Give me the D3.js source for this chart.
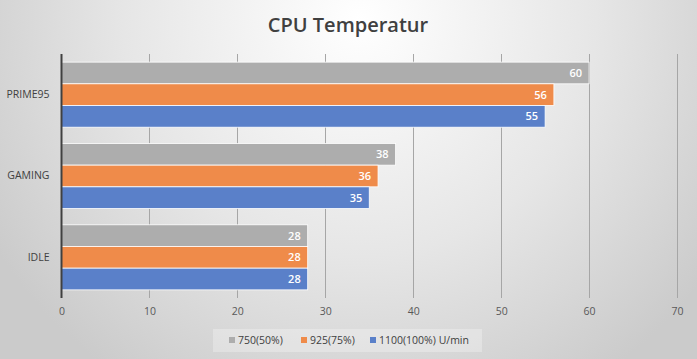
<!DOCTYPE html>
<html><head><meta charset="utf-8">
<script src="https://cdn.jsdelivr.net/npm/d3@7"></script>
<style>html,body{margin:0;padding:0;}svg{display:block;}</style>
</head><body>
<script>
const categories = ["PRIME95", "GAMING", "IDLE"];
const seriesNames = ["750(50%)", "925(75%)", "1100(100%) U/min"];
const s750 = [60, 38, 28];
const s925 = [56, 36, 28];
const s1100 = [55, 35, 28];
const xTicks = [0, 10, 20, 30, 40, 50, 60, 70];
const colors = ["#ADADAD", "#EF8B4A", "#5A80C9"];
const seriesValues = [s750, s925, s1100];

(function () {
const W = 697, H = 359;
const svg = d3.select("body").append("svg").attr("width", W).attr("height", H);
const defs = svg.append("defs");
const rg = defs.append("radialGradient").attr("id", "bg").attr("gradientUnits", "userSpaceOnUse")
  .attr("cx", 360).attr("cy", 20).attr("r", 430);
rg.append("stop").attr("offset", "0").attr("stop-color", "#ffffff");
rg.append("stop").attr("offset", "0.55").attr("stop-color", "#e6e6e6");
rg.append("stop").attr("offset", "1").attr("stop-color", "#cbcbcb");
svg.append("rect").attr("width", W).attr("height", H).attr("fill", "url(#bg)");

const font = "'Open Sans', 'Noto Sans', sans-serif";
svg.append("text").attr("x", 348).attr("y", 32).attr("text-anchor", "middle")
  .attr("font-family", font).attr("font-weight", 600).attr("font-size", 20)
  .attr("fill", "#404040").text("CPU Temperatur");

const pL = 61.5, pR = 677, pT = 54, pB = 298;
const x = d3.scaleLinear().domain([0, 70]).range([pL, pR]);
const y = d3.scaleBand().domain(categories).range([pT, pB]).paddingInner(0.2).paddingOuter(0.1);
const ys = d3.scaleBand().domain(d3.range(3)).range([0, y.bandwidth()]);

svg.append("g").selectAll("line").data(xTicks.slice(1)).join("line")
  .attr("x1", d => x(d)).attr("x2", d => x(d)).attr("y1", pT).attr("y2", pB)
  .attr("stroke", "#a6a6a6").attr("stroke-width", 1).attr("shape-rendering", "crispEdges");

const g = svg.append("g");
categories.forEach((c, ci) => {
  seriesValues.forEach((vals, si) => {
    const v = vals[ci];
    const by = y(c) + ys(si);
    g.append("rect").attr("x", x(0)).attr("y", by).attr("width", x(v) - x(0)).attr("height", ys.bandwidth())
      .attr("fill", colors[si]).attr("stroke", "#ffffff").attr("stroke-width", 0.8);
    g.append("text").attr("x", x(v) - 7).attr("y", by + ys.bandwidth() / 2 + 4)
      .attr("text-anchor", "end").attr("font-family", font).attr("font-weight", 600)
      .attr("font-size", 11).attr("fill", "#ffffff").text(v);
  });
});

svg.append("line").attr("x1", pL).attr("x2", pL).attr("y1", pT).attr("y2", pB)
  .attr("stroke", "#404040").attr("stroke-width", 2);

const xAxis = d3.axisBottom(x).tickValues(xTicks).tickSize(0).tickPadding(10);
const xa = svg.append("g").attr("transform", `translate(0,${pB})`).call(xAxis);
xa.select(".domain").remove();
xa.selectAll("text").attr("font-family", font).attr("font-size", 10.5).attr("fill", "#595959");

const yAxis = d3.axisLeft(y).tickSize(0).tickPadding(12);
const ya = svg.append("g").attr("transform", `translate(${pL},0)`).call(yAxis);
ya.select(".domain").remove();
ya.selectAll("text").attr("font-family", font).attr("font-size", 10.5).attr("fill", "#404040");

svg.append("rect").attr("x", 213).attr("y", 329).attr("width", 269).attr("height", 23)
  .attr("fill", "#ffffff").attr("fill-opacity", 0.28);
const legX = [229, 301, 370];
seriesNames.forEach((n, i) => {
  svg.append("rect").attr("x", legX[i]).attr("y", 337).attr("width", 6).attr("height", 6).attr("fill", colors[i]);
  svg.append("text").attr("x", legX[i] + 9).attr("y", 344).attr("font-family", font)
    .attr("font-size", 10.5).attr("fill", "#404040").text(n);
});
})();
</script>
</body></html>
